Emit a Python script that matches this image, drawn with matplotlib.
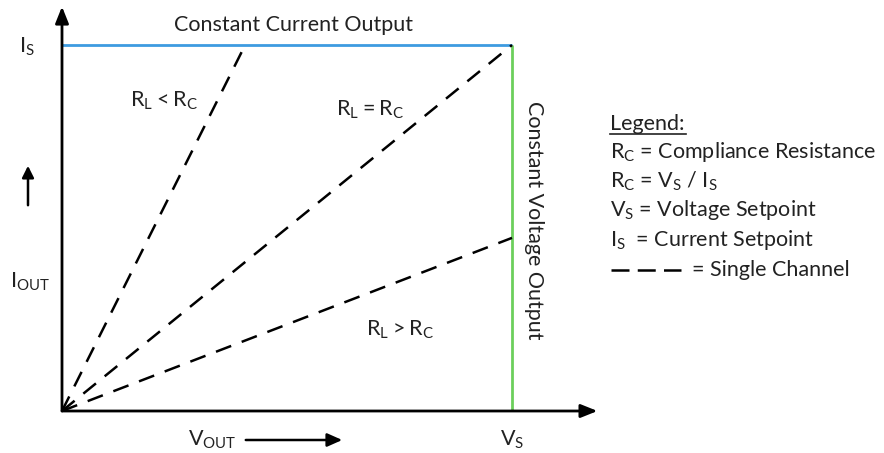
import matplotlib
matplotlib.use("Agg")
import matplotlib.pyplot as plt
from matplotlib.lines import Line2D
from matplotlib.patches import FancyArrowPatch

plt.rcParams['font.family'] = ['Lato', 'DejaVu Sans']

# --- data (normalized: V_S = 1, I_S = 1) ---
v_setpoint = 1.0
i_setpoint = 1.0
load_labels = [r'$\mathregular{R_L < R_C}$', r'$\mathregular{R_L = R_C}$', r'$\mathregular{R_L > R_C}$']
load_v_end = [0.407, 1.0, 1.0]
load_i_end = [1.0, 1.0, 0.473]
legend_lines = [r'$\mathregular{R_C}$ = Compliance Resistance',
                r'$\mathregular{R_C}$ = $\mathregular{V_S}$ / $\mathregular{I_S}$',
                r'$\mathregular{V_S}$ = Voltage Setpoint',
                r'$\mathregular{I_S}$  = Current Setpoint']

W, H = 884, 453
fig = plt.figure(figsize=(W / 100, H / 100), dpi=100)

def px(x, y):
    return x / W, 1 - y / H

TXT = '#222222'
ox, oy = 62, 411
ax = fig.add_axes([ox / W, (H - oy) / H, 450 / W, 366 / H])
ax.set_xlim(0, 1)
ax.set_ylim(0, 1)
ax.axis('off')

# axes arrows
ax.annotate('', xy=(0, 1.105), xytext=(0, 0), xycoords='data',
            arrowprops=dict(arrowstyle='-|>,head_length=1.0,head_width=0.4', color='black', lw=2,
                            shrinkA=0, shrinkB=0), annotation_clip=False)
ax.annotate('', xy=(1.19, 0), xytext=(0, 0), xycoords='data',
            arrowprops=dict(arrowstyle='-|>,head_length=1.0,head_width=0.4', color='black', lw=2,
                            shrinkA=0, shrinkB=0), annotation_clip=False)

# constant current (blue) and constant voltage (green)
ax.plot([0, v_setpoint], [i_setpoint, i_setpoint], color='#3d9be0', lw=2, clip_on=False,
        solid_capstyle='butt')
ax.plot([v_setpoint, v_setpoint], [0, i_setpoint], color='#6ccf5c', lw=2, clip_on=False,
        solid_capstyle='butt')

# load lines
for ve, ie in zip(load_v_end, load_i_end):
    ax.plot([0, ve], [0, ie], color='black', lw=1.8, dashes=(6.5, 4.5), clip_on=False)

fs = 15.5
# labels
fig.text(*px(293, 25), 'Constant Current Output', fontsize=fs, ha='center', va='center', color=TXT)
fig.text(*px(534, 220), 'Constant Voltage Output', fontsize=fs, ha='center', va='center',
         rotation=-90, color=TXT)
fig.text(*px(164, 101), load_labels[0], fontsize=fs, ha='center', va='center', color=TXT)
fig.text(*px(370, 110), load_labels[1], fontsize=fs, ha='center', va='center', color=TXT)
fig.text(*px(400, 330), load_labels[2], fontsize=fs, ha='center', va='center', color=TXT)
fig.text(*px(27, 47), r'$\mathregular{I_S}$', fontsize=fs, ha='center', va='center', color=TXT)
fig.text(*px(512, 440), r'$\mathregular{V_S}$', fontsize=fs, ha='center', va='center', color=TXT)
fig.text(*px(30, 282), r'$\mathregular{I_{OUT}}$', fontsize=fs, ha='center', va='center', color=TXT)
fig.text(*px(212, 440), r'$\mathregular{V_{OUT}}$', fontsize=fs, ha='center', va='center', color=TXT)

# side arrows
fig.add_artist(FancyArrowPatch(px(28, 208), px(28, 163), transform=fig.transFigure,
               arrowstyle='-|>,head_length=7,head_width=3.5', color='black', lw=1.8))
fig.add_artist(FancyArrowPatch(px(243, 440), px(345, 440), transform=fig.transFigure,
               arrowstyle='-|>,head_length=9,head_width=4', color='black', lw=1.8))

# legend
fig.text(*px(610, 124), 'Legend:', fontsize=fs, ha='left', va='center', color=TXT)
fig.add_artist(Line2D([610 / W, 686 / W], [1 - 134 / H, 1 - 134 / H], color=TXT, lw=1.2))
ys = [152, 181, 210, 240]
for y, t in zip(ys, legend_lines):
    fig.text(*px(610, y), t, fontsize=fs, ha='left', va='center', color=TXT)
fig.add_artist(Line2D([611 / W, 681 / W], [1 - 270 / H, 1 - 270 / H], color='black', lw=1.8,
                      dashes=(7.2, 3.3), solid_capstyle='butt', dash_capstyle='butt'))
fig.text(*px(692, 270), '= Single Channel', fontsize=fs, ha='left', va='center', color=TXT)

fig.savefig('out.png', dpi=100)
